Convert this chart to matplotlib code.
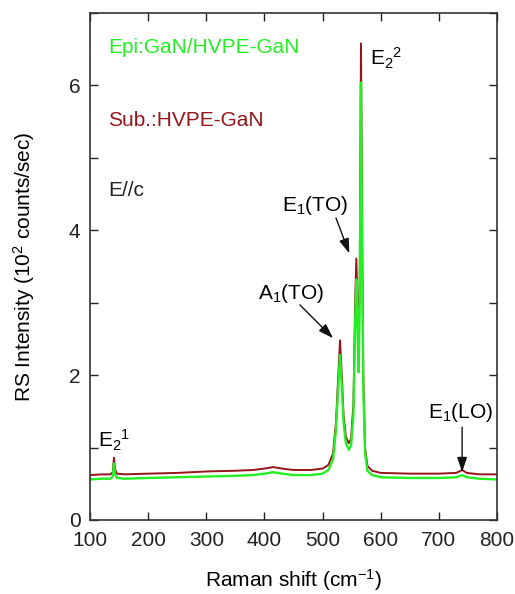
import matplotlib
matplotlib.use("Agg")
import matplotlib.pyplot as plt

plt.rcParams['font.family'] = ['Liberation Sans', 'DejaVu Sans']
plt.rcParams['font.size'] = 15
plt.rcParams['mathtext.fontset'] = 'custom'
plt.rcParams['mathtext.rm'] = 'Liberation Sans'
plt.rcParams['mathtext.it'] = 'Liberation Sans'

# Raman shift (cm-1) and intensity (10^2 counts/sec)
sub_shift = [100, 120, 135, 139, 141, 143, 146, 160, 200, 250, 300, 350, 380, 400, 415,
             430, 450, 480, 500, 510, 518, 523, 527, 530, 533, 536, 540, 545, 549, 553,
             556, 558, 560, 562, 564, 566, 568, 570, 573, 577, 585, 600, 650, 700, 730,
             740, 748, 770, 800]
sub_int = [0.62, 0.63, 0.63, 0.66, 0.86, 0.70, 0.64, 0.63, 0.64, 0.65, 0.67, 0.68, 0.69, 0.71, 0.73,
           0.71, 0.69, 0.69, 0.71, 0.76, 0.92, 1.35, 2.00, 2.48, 2.00, 1.45, 1.15, 1.06, 1.12, 1.60,
           3.00, 3.61, 3.00, 2.10, 3.50, 6.58, 4.00, 2.00, 1.00, 0.75, 0.68, 0.65, 0.64, 0.64, 0.65,
           0.69, 0.65, 0.63, 0.63]

epi_shift = [100, 120, 135, 139, 141, 143, 146, 160, 200, 250, 300, 350, 380, 400, 415,
             430, 450, 480, 500, 510, 518, 523, 527, 530, 533, 536, 540, 545, 549, 553,
             556, 558, 560, 562, 564, 566, 568, 570, 573, 577, 585, 600, 650, 700, 730,
             740, 748, 770, 800]
epi_int = [0.56, 0.57, 0.57, 0.60, 0.78, 0.63, 0.58, 0.57, 0.58, 0.59, 0.60, 0.61, 0.62, 0.64, 0.66,
           0.64, 0.62, 0.62, 0.64, 0.69, 0.84, 1.25, 1.85, 2.28, 1.85, 1.35, 1.06, 0.97, 1.03, 1.45,
           2.70, 3.32, 2.70, 2.04, 3.20, 6.04, 3.70, 1.85, 0.93, 0.68, 0.62, 0.59, 0.58, 0.58, 0.59,
           0.62, 0.59, 0.57, 0.56]

red = '#96141a'
green = '#22f022'

fig = plt.figure(figsize=(5.15, 5.94), dpi=100)
ax = fig.add_axes([0.175, 0.1246, 0.79, 0.8535])

ax.plot(sub_shift, sub_int, color=red, lw=1.4)
ax.plot(epi_shift, epi_int, color=green, lw=1.7)

ax.set_xlim(100, 800)
ax.set_ylim(0, 7)
ax.set_xticks(range(100, 801, 100))
ax.set_yticks(range(0, 8))
ax.set_yticklabels(['0', '', '2', '', '4', '', '6', ''])
ax.tick_params(direction='in', length=6, top=True, right=True, width=1, colors='#222222')
ax.tick_params(axis='x', pad=8)
ax.tick_params(axis='y', pad=7)
for s in ax.spines.values():
    s.set_linewidth(1.2)
    s.set_color('#333333')

ax.set_xlabel('Raman shift (cm$^{-1}$)', labelpad=12)
ax.set_ylabel('RS Intensity (10$^2$ counts/sec)', labelpad=23)

ax.text(131, 6.52, 'Epi:GaN/HVPE-GaN', color=green, va='center')
ax.text(131, 5.52, 'Sub.:HVPE-GaN', color=red, va='center')
ax.text(131, 4.55, 'E//c', color='#222222', va='center')

ax.text(582, 6.37, 'E$_2$$^2$', va='center')
ax.text(114, 1.10, 'E$_2$$^1$', va='center')

arrow = dict(arrowstyle='-|>,head_length=0.6,head_width=0.2', color='#111111', lw=1,
             shrinkA=0, shrinkB=0)
ax.annotate('', xy=(546, 3.68), xytext=(523, 4.17), arrowprops=arrow)
ax.text(487, 4.34, 'E$_1$(TO)', ha='center', va='center')
ax.annotate('', xy=(518, 2.51), xytext=(461, 2.97), arrowprops=arrow)
ax.text(446, 3.13, 'A$_1$(TO)', ha='center', va='center')
ax.annotate('', xy=(740, 0.66), xytext=(740, 1.28), arrowprops=arrow)
ax.text(737, 1.48, 'E$_1$(LO)', ha='center', va='center')

fig.savefig('out.png', dpi=100)
